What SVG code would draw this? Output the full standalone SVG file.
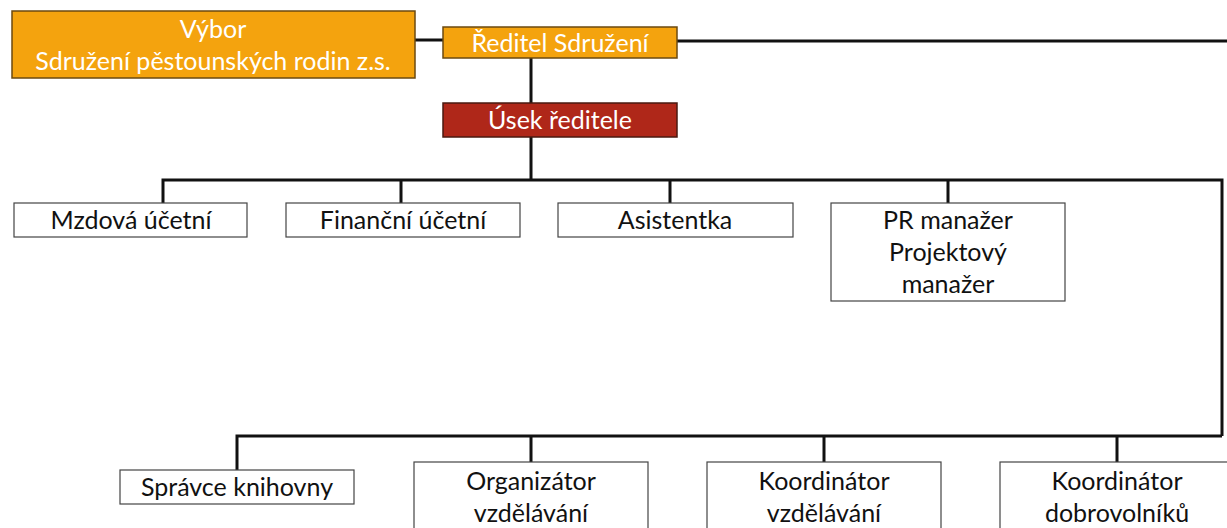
<svg xmlns="http://www.w3.org/2000/svg" width="1227" height="528" viewBox="0 0 1227 528">
<style>
.box{fill:#fff;stroke:#444;stroke-width:1.2}
.or{fill:#F4A30E;stroke:#6b4a10;stroke-width:1.5}
.rd{fill:#AF2719;stroke:#4a1a10;stroke-width:1.5}
.t{font-family:Lato,"Liberation Sans",sans-serif;font-size:25px;text-anchor:middle;fill:#111}
.w{fill:#fff}
.ln{fill:none;stroke:#111;stroke-width:3}
</style>
<rect width="1227" height="528" fill="#fff"/>
<g id="connectors">
<path class="ln" d="M415 40H443M677 41H1227M531 58V103M531 137V180M163 203V180H1222V436M401 180V203M670 180V203M948 180V203M237 470V436H1222M531 436V462M824 436V462M1117 436V462"/>
</g>
<g id="vybor"><rect class="or" x="12" y="11" width="403" height="67"/><text class="t w" x="213" y="38">Výbor</text><text class="t w" x="213" y="70">Sdružení pěstounských rodin z.s.</text></g>
<g id="reditel"><rect class="or" x="443" y="27" width="234" height="31"/><text class="t w" x="560" y="52">Ředitel Sdružení</text></g>
<g id="usek"><rect class="rd" x="443" y="103" width="234" height="34"/><text class="t w" x="560" y="129">Úsek ředitele</text></g>
<g id="mzdova"><rect class="box" x="14" y="203" width="233" height="34"/><text class="t" x="131" y="229">Mzdová účetní</text></g>
<g id="financni"><rect class="box" x="286" y="203" width="234" height="34"/><text class="t" x="403" y="229">Finanční účetní</text></g>
<g id="asistentka"><rect class="box" x="558" y="203" width="235" height="34"/><text class="t" x="675" y="229">Asistentka</text></g>
<g id="pr"><rect class="box" x="831" y="203" width="234" height="98"/><text class="t" x="948" y="229">PR manažer</text><text class="t" x="948" y="261">Projektový</text><text class="t" x="948" y="293">manažer</text></g>
<g id="spravce"><rect class="box" x="120" y="470" width="234" height="34"/><text class="t" x="237" y="496">Správce knihovny</text></g>
<g id="organizator"><rect class="box" x="414" y="462" width="234" height="80"/><text class="t" x="531" y="490">Organizátor</text><text class="t" x="531" y="522">vzdělávání</text></g>
<g id="koordinator1"><rect class="box" x="707" y="462" width="234" height="80"/><text class="t" x="824" y="490">Koordinátor</text><text class="t" x="824" y="522">vzdělávání</text></g>
<g id="koordinator2"><rect class="box" x="1000" y="462" width="240" height="80"/><text class="t" x="1117" y="490">Koordinátor</text><text class="t" x="1117" y="522">dobrovolníků</text></g>
</svg>
